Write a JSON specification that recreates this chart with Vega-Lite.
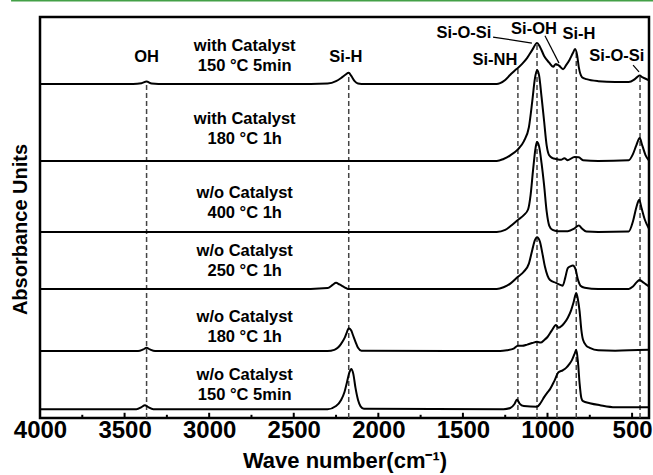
{
  "$schema": "https://vega.github.io/schema/vega-lite/v6.json",
  "width": 609,
  "height": 401,
  "autosize": "none",
  "padding": {"left": 40, "top": 17, "right": 4, "bottom": 57},
  "background": "white",
  "config": {
    "view": {"stroke": "black", "strokeWidth": 2.5},
    "font": "Liberation Sans"
  },
  "datasets": {
    "spectra": [
      {"s":"T1","w":4000,"v":83.3},{"s":"T1","w":3800,"v":83.3},{"s":"T1","w":3450,"v":83.3},{"s":"T1","w":3400,"v":83.5},{"s":"T1","w":3370,"v":83.9},{"s":"T1","w":3340,"v":83.4},{"s":"T1","w":3300,"v":83.3},{"s":"T1","w":2800,"v":83.3},{"s":"T1","w":2400,"v":83.3},{"s":"T1","w":2300,"v":83.4},{"s":"T1","w":2250,"v":84.0},{"s":"T1","w":2220,"v":84.8},{"s":"T1","w":2195,"v":85.6},{"s":"T1","w":2175,"v":86.1},{"s":"T1","w":2160,"v":85.3},{"s":"T1","w":2140,"v":84.0},{"s":"T1","w":2120,"v":83.4},{"s":"T1","w":2100,"v":83.3},{"s":"T1","w":1600,"v":83.3},{"s":"T1","w":1300,"v":83.3},{"s":"T1","w":1280,"v":83.5},{"s":"T1","w":1250,"v":84.3},{"s":"T1","w":1220,"v":85.6},{"s":"T1","w":1190,"v":86.8},{"s":"T1","w":1175,"v":87.3},{"s":"T1","w":1150,"v":88.3},{"s":"T1","w":1120,"v":89.8},{"s":"T1","w":1090,"v":91.8},{"s":"T1","w":1062,"v":93.5},{"s":"T1","w":1045,"v":92.6},{"s":"T1","w":1020,"v":90.3},{"s":"T1","w":990,"v":88.6},{"s":"T1","w":967,"v":87.6},{"s":"T1","w":950,"v":88.3},{"s":"T1","w":930,"v":87.8},{"s":"T1","w":908,"v":87.0},{"s":"T1","w":890,"v":88.0},{"s":"T1","w":870,"v":89.3},{"s":"T1","w":850,"v":91.0},{"s":"T1","w":837,"v":92.0},{"s":"T1","w":825,"v":90.5},{"s":"T1","w":815,"v":87.5},{"s":"T1","w":796,"v":85.0},{"s":"T1","w":770,"v":84.5},{"s":"T1","w":700,"v":84.0},{"s":"T1","w":600,"v":83.8},{"s":"T1","w":520,"v":83.8},{"s":"T1","w":490,"v":84.3},{"s":"T1","w":470,"v":85.0},{"s":"T1","w":455,"v":85.4},{"s":"T1","w":440,"v":85.0},{"s":"T1","w":420,"v":84.6},{"s":"T1","w":400,"v":84.2},

      {"s":"T2","w":4000,"v":64.1},{"s":"T2","w":2400,"v":64.1},{"s":"T2","w":1300,"v":64.1},{"s":"T2","w":1260,"v":64.6},{"s":"T2","w":1220,"v":65.5},{"s":"T2","w":1175,"v":67.0},{"s":"T2","w":1140,"v":69.0},{"s":"T2","w":1110,"v":72.5},{"s":"T2","w":1090,"v":79.0},{"s":"T2","w":1075,"v":84.5},{"s":"T2","w":1062,"v":86.8},{"s":"T2","w":1050,"v":85.5},{"s":"T2","w":1035,"v":80.0},{"s":"T2","w":1020,"v":74.0},{"s":"T2","w":1005,"v":68.0},{"s":"T2","w":990,"v":65.5},{"s":"T2","w":970,"v":64.8},{"s":"T2","w":950,"v":64.6},{"s":"T2","w":920,"v":64.4},{"s":"T2","w":900,"v":64.8},{"s":"T2","w":880,"v":64.3},{"s":"T2","w":840,"v":65.1},{"s":"T2","w":815,"v":65.0},{"s":"T2","w":790,"v":64.3},{"s":"T2","w":700,"v":64.1},{"s":"T2","w":520,"v":64.3},{"s":"T2","w":495,"v":65.8},{"s":"T2","w":475,"v":68.0},{"s":"T2","w":455,"v":69.8},{"s":"T2","w":440,"v":68.0},{"s":"T2","w":420,"v":65.5},{"s":"T2","w":400,"v":64.2},

      {"s":"T3","w":4000,"v":46.4},{"s":"T3","w":1300,"v":46.4},{"s":"T3","w":1250,"v":46.9},{"s":"T3","w":1220,"v":47.8},{"s":"T3","w":1175,"v":49.4},{"s":"T3","w":1140,"v":50.6},{"s":"T3","w":1115,"v":52.0},{"s":"T3","w":1100,"v":55.6},{"s":"T3","w":1085,"v":62.0},{"s":"T3","w":1070,"v":67.5},{"s":"T3","w":1062,"v":68.8},{"s":"T3","w":1050,"v":67.8},{"s":"T3","w":1035,"v":63.5},{"s":"T3","w":1020,"v":58.0},{"s":"T3","w":1005,"v":51.5},{"s":"T3","w":990,"v":48.0},{"s":"T3","w":970,"v":46.9},{"s":"T3","w":940,"v":46.6},{"s":"T3","w":880,"v":46.6},{"s":"T3","w":840,"v":47.3},{"s":"T3","w":815,"v":48.0},{"s":"T3","w":795,"v":47.2},{"s":"T3","w":770,"v":46.5},{"s":"T3","w":700,"v":46.4},{"s":"T3","w":520,"v":46.5},{"s":"T3","w":495,"v":49.0},{"s":"T3","w":475,"v":52.5},{"s":"T3","w":458,"v":54.4},{"s":"T3","w":445,"v":52.5},{"s":"T3","w":425,"v":49.5},{"s":"T3","w":400,"v":47.2},

      {"s":"T4","w":4000,"v":32.2},{"s":"T4","w":2400,"v":32.2},{"s":"T4","w":2300,"v":32.4},{"s":"T4","w":2270,"v":33.2},{"s":"T4","w":2250,"v":33.7},{"s":"T4","w":2230,"v":33.3},{"s":"T4","w":2200,"v":32.6},{"s":"T4","w":2180,"v":32.2},{"s":"T4","w":1300,"v":32.2},{"s":"T4","w":1260,"v":32.6},{"s":"T4","w":1220,"v":33.5},{"s":"T4","w":1175,"v":35.2},{"s":"T4","w":1140,"v":36.5},{"s":"T4","w":1110,"v":38.5},{"s":"T4","w":1090,"v":41.9},{"s":"T4","w":1075,"v":44.3},{"s":"T4","w":1062,"v":45.1},{"s":"T4","w":1045,"v":44.0},{"s":"T4","w":1030,"v":41.0},{"s":"T4","w":1015,"v":37.7},{"s":"T4","w":1000,"v":35.5},{"s":"T4","w":985,"v":34.4},{"s":"T4","w":950,"v":33.7},{"s":"T4","w":925,"v":33.2},{"s":"T4","w":910,"v":33.0},{"s":"T4","w":895,"v":35.0},{"s":"T4","w":880,"v":37.4},{"s":"T4","w":865,"v":37.8},{"s":"T4","w":850,"v":38.0},{"s":"T4","w":835,"v":37.2},{"s":"T4","w":820,"v":34.5},{"s":"T4","w":805,"v":33.0},{"s":"T4","w":780,"v":32.5},{"s":"T4","w":700,"v":32.2},{"s":"T4","w":520,"v":32.2},{"s":"T4","w":495,"v":32.8},{"s":"T4","w":470,"v":34.0},{"s":"T4","w":455,"v":34.4},{"s":"T4","w":440,"v":34.0},{"s":"T4","w":420,"v":33.4},{"s":"T4","w":400,"v":32.8},

      {"s":"T5","w":4000,"v":16.7},{"s":"T5","w":3420,"v":16.7},{"s":"T5","w":3390,"v":17.1},{"s":"T5","w":3370,"v":17.5},{"s":"T5","w":3350,"v":17.1},{"s":"T5","w":3320,"v":16.7},{"s":"T5","w":2300,"v":16.7},{"s":"T5","w":2260,"v":17.0},{"s":"T5","w":2240,"v":17.5},{"s":"T5","w":2220,"v":18.5},{"s":"T5","w":2200,"v":19.9},{"s":"T5","w":2185,"v":21.5},{"s":"T5","w":2175,"v":22.4},{"s":"T5","w":2160,"v":21.8},{"s":"T5","w":2150,"v":20.7},{"s":"T5","w":2135,"v":19.0},{"s":"T5","w":2120,"v":17.5},{"s":"T5","w":2100,"v":16.8},{"s":"T5","w":1280,"v":16.7},{"s":"T5","w":1240,"v":16.9},{"s":"T5","w":1200,"v":17.3},{"s":"T5","w":1175,"v":18.0},{"s":"T5","w":1150,"v":18.0},{"s":"T5","w":1120,"v":18.3},{"s":"T5","w":1090,"v":18.7},{"s":"T5","w":1062,"v":19.0},{"s":"T5","w":1040,"v":18.8},{"s":"T5","w":1020,"v":19.4},{"s":"T5","w":1000,"v":20.2},{"s":"T5","w":975,"v":21.8},{"s":"T5","w":950,"v":23.2},{"s":"T5","w":935,"v":22.5},{"s":"T5","w":915,"v":23.0},{"s":"T5","w":900,"v":23.7},{"s":"T5","w":880,"v":25.0},{"s":"T5","w":860,"v":26.9},{"s":"T5","w":845,"v":29.0},{"s":"T5","w":830,"v":31.2},{"s":"T5","w":820,"v":29.5},{"s":"T5","w":810,"v":26.5},{"s":"T5","w":800,"v":22.0},{"s":"T5","w":790,"v":19.5},{"s":"T5","w":770,"v":18.0},{"s":"T5","w":750,"v":17.5},{"s":"T5","w":700,"v":16.9},{"s":"T5","w":600,"v":16.8},{"s":"T5","w":400,"v":17.0},

      {"s":"T6","w":4000,"v":2.2},{"s":"T6","w":3430,"v":2.2},{"s":"T6","w":3400,"v":2.7},{"s":"T6","w":3380,"v":3.2},{"s":"T6","w":3360,"v":2.7},{"s":"T6","w":3330,"v":2.2},{"s":"T6","w":2300,"v":2.2},{"s":"T6","w":2250,"v":3.0},{"s":"T6","w":2220,"v":4.5},{"s":"T6","w":2200,"v":6.5},{"s":"T6","w":2185,"v":9.0},{"s":"T6","w":2170,"v":11.5},{"s":"T6","w":2160,"v":12.2},{"s":"T6","w":2148,"v":11.0},{"s":"T6","w":2135,"v":7.5},{"s":"T6","w":2120,"v":4.5},{"s":"T6","w":2105,"v":2.9},{"s":"T6","w":2085,"v":2.3},{"s":"T6","w":1260,"v":2.2},{"s":"T6","w":1220,"v":2.5},{"s":"T6","w":1195,"v":3.5},{"s":"T6","w":1180,"v":4.6},{"s":"T6","w":1165,"v":3.6},{"s":"T6","w":1140,"v":3.0},{"s":"T6","w":1062,"v":2.8},{"s":"T6","w":1040,"v":3.8},{"s":"T6","w":1020,"v":5.2},{"s":"T6","w":1000,"v":6.4},{"s":"T6","w":985,"v":7.2},{"s":"T6","w":960,"v":9.2},{"s":"T6","w":935,"v":11.4},{"s":"T6","w":910,"v":11.9},{"s":"T6","w":890,"v":12.5},{"s":"T6","w":870,"v":13.5},{"s":"T6","w":855,"v":14.5},{"s":"T6","w":840,"v":16.0},{"s":"T6","w":830,"v":17.0},{"s":"T6","w":820,"v":14.0},{"s":"T6","w":810,"v":8.5},{"s":"T6","w":800,"v":5.0},{"s":"T6","w":790,"v":4.2},{"s":"T6","w":750,"v":3.7},{"s":"T6","w":690,"v":3.2},{"s":"T6","w":600,"v":2.7},{"s":"T6","w":400,"v":2.7}
    ],
    "guides": [
      {"w":3370,"lo":0,"hi":83.3},
      {"w":2175,"lo":0,"hi":86.0},
      {"w":1175,"lo":0,"hi":87.3},
      {"w":1062,"lo":0,"hi":93.0},
      {"w":944,"lo":0,"hi":88.0},
      {"w":830,"lo":0,"hi":91.5},
      {"w":453,"lo":0,"hi":85.4}
    ],
    "ticks": [
      {"w":3750,"lo":0,"hi":0.8},{"w":3500,"lo":0,"hi":1.3},{"w":3250,"lo":0,"hi":0.8},{"w":3000,"lo":0,"hi":1.3},
      {"w":2750,"lo":0,"hi":0.8},{"w":2500,"lo":0,"hi":1.3},{"w":2250,"lo":0,"hi":0.8},{"w":2000,"lo":0,"hi":1.3},
      {"w":1750,"lo":0,"hi":0.8},{"w":1500,"lo":0,"hi":1.3},{"w":1250,"lo":0,"hi":0.8},{"w":1000,"lo":0,"hi":1.3},
      {"w":750,"lo":0,"hi":0.8},{"w":500,"lo":0,"hi":1.3}
    ],
    "border": [
      {"w1":4171,"w2":376,"v":104.1}
    ],
    "conditions": [
      {"w":2790,"v":92.7,"t":"with Catalyst"},{"w":2790,"v":87.7,"t":"150 °C 5min"},
      {"w":2790,"v":74.5,"t":"with Catalyst"},{"w":2790,"v":69.5,"t":"180 °C 1h"},
      {"w":2790,"v":56.0,"t":"w/o Catalyst"},{"w":2790,"v":51.0,"t":"400 °C 1h"},
      {"w":2790,"v":41.6,"t":"w/o Catalyst"},{"w":2790,"v":36.7,"t":"250 °C 1h"},
      {"w":2790,"v":25.2,"t":"w/o Catalyst"},{"w":2790,"v":20.2,"t":"180 °C 1h"},
      {"w":2790,"v":10.7,"t":"w/o Catalyst"},{"w":2790,"v":5.7,"t":"150 °C 5min"}
    ],
    "peaks": [
      {"w":3370,"v":90.0,"t":"OH"},
      {"w":2192,"v":90.0,"t":"Si-H"},
      {"w":1311,"v":89.3,"t":"Si-NH"},
      {"w":1494,"v":96.0,"t":"Si-O-Si"},
      {"w":1080,"v":97.0,"t":"Si-OH"},
      {"w":814,"v":95.8,"t":"Si-H"},
      {"w":590,"v":90.3,"t":"Si-O-Si"}
    ],
    "leaders": [
      {"w1":1322,"w2":1092,"v1":95.0,"v2":93.5},
      {"w1":1015,"w2":932,"v1":95.3,"v2":88.5},
      {"w1":494,"w2":459,"v1":88.0,"v2":86.3}
    ]
  },
  "layer": [
    {
      "data": {"name": "guides"},
      "mark": {"type": "rule", "strokeDash": [5, 3], "strokeWidth": 1.5, "color": "#444444"},
      "encoding": {
        "x": {"field": "w", "type": "quantitative"},
        "y": {"field": "lo", "type": "quantitative"},
        "y2": {"field": "hi"}
      }
    },
    {
      "data": {"name": "ticks"},
      "mark": {"type": "rule", "strokeWidth": 2, "color": "black"},
      "encoding": {
        "x": {"field": "w", "type": "quantitative"},
        "y": {"field": "lo", "type": "quantitative"},
        "y2": {"field": "hi"}
      }
    },
    {
      "data": {"name": "border"},
      "mark": {"type": "rule", "strokeWidth": 2, "color": "#43a047", "clip": false},
      "encoding": {
        "x": {"field": "w1", "type": "quantitative"},
        "x2": {"field": "w2"},
        "y": {"field": "v", "type": "quantitative"}
      }
    },
    {
      "data": {"name": "spectra"},
      "mark": {"type": "line", "color": "black", "strokeWidth": 2, "interpolate": "monotone", "clip": true},
      "encoding": {
        "x": {
          "field": "w", "type": "quantitative",
          "scale": {"domain": [4000, 400], "nice": false, "zero": false},
          "axis": {
            "title": "Wave number(cm⁻¹)",
            "titleFont": "Liberation Sans", "titleFontSize": 22, "titleFontWeight": "bold", "titleColor": "black", "titlePadding": 8,
            "values": [4000,3500,3000,2500,2000,1500,1000,500],
            "format": "d",
            "labelFont": "Liberation Sans", "labelFontSize": 24, "labelFontWeight": "bold", "labelColor": "black",
            "labelFlush": false, "labelPadding": 0, "labelOverlap": false,
            "grid": false, "domain": false, "ticks": false
          }
        },
        "y": {
          "field": "v", "type": "quantitative",
          "scale": {"domain": [0, 100], "nice": false, "zero": false},
          "axis": {
            "title": "Absorbance Units",
            "titleFont": "Liberation Sans", "titleFontSize": 20, "titleFontWeight": "bold", "titleColor": "black", "titlePadding": 10,
            "titleY": 212,
            "labels": false, "ticks": false, "grid": false, "domain": false
          }
        },
        "detail": {"field": "s", "type": "nominal"}
      }
    },
    {
      "data": {"name": "conditions"},
      "mark": {"type": "text", "font": "Liberation Sans", "fontSize": 16.5, "fontWeight": "bold", "color": "black", "baseline": "middle", "align": "center"},
      "encoding": {
        "x": {"field": "w", "type": "quantitative"},
        "y": {"field": "v", "type": "quantitative"},
        "text": {"field": "t"}
      }
    },
    {
      "data": {"name": "peaks"},
      "mark": {"type": "text", "font": "Liberation Sans", "fontSize": 16.5, "fontWeight": "bold", "color": "black", "baseline": "middle", "align": "center"},
      "encoding": {
        "x": {"field": "w", "type": "quantitative"},
        "y": {"field": "v", "type": "quantitative"},
        "text": {"field": "t"}
      }
    },
    {
      "data": {"name": "leaders"},
      "mark": {"type": "rule", "color": "black", "strokeWidth": 1.2},
      "encoding": {
        "x": {"field": "w1", "type": "quantitative"},
        "x2": {"field": "w2"},
        "y": {"field": "v1", "type": "quantitative"},
        "y2": {"field": "v2"}
      }
    }
  ]
}
